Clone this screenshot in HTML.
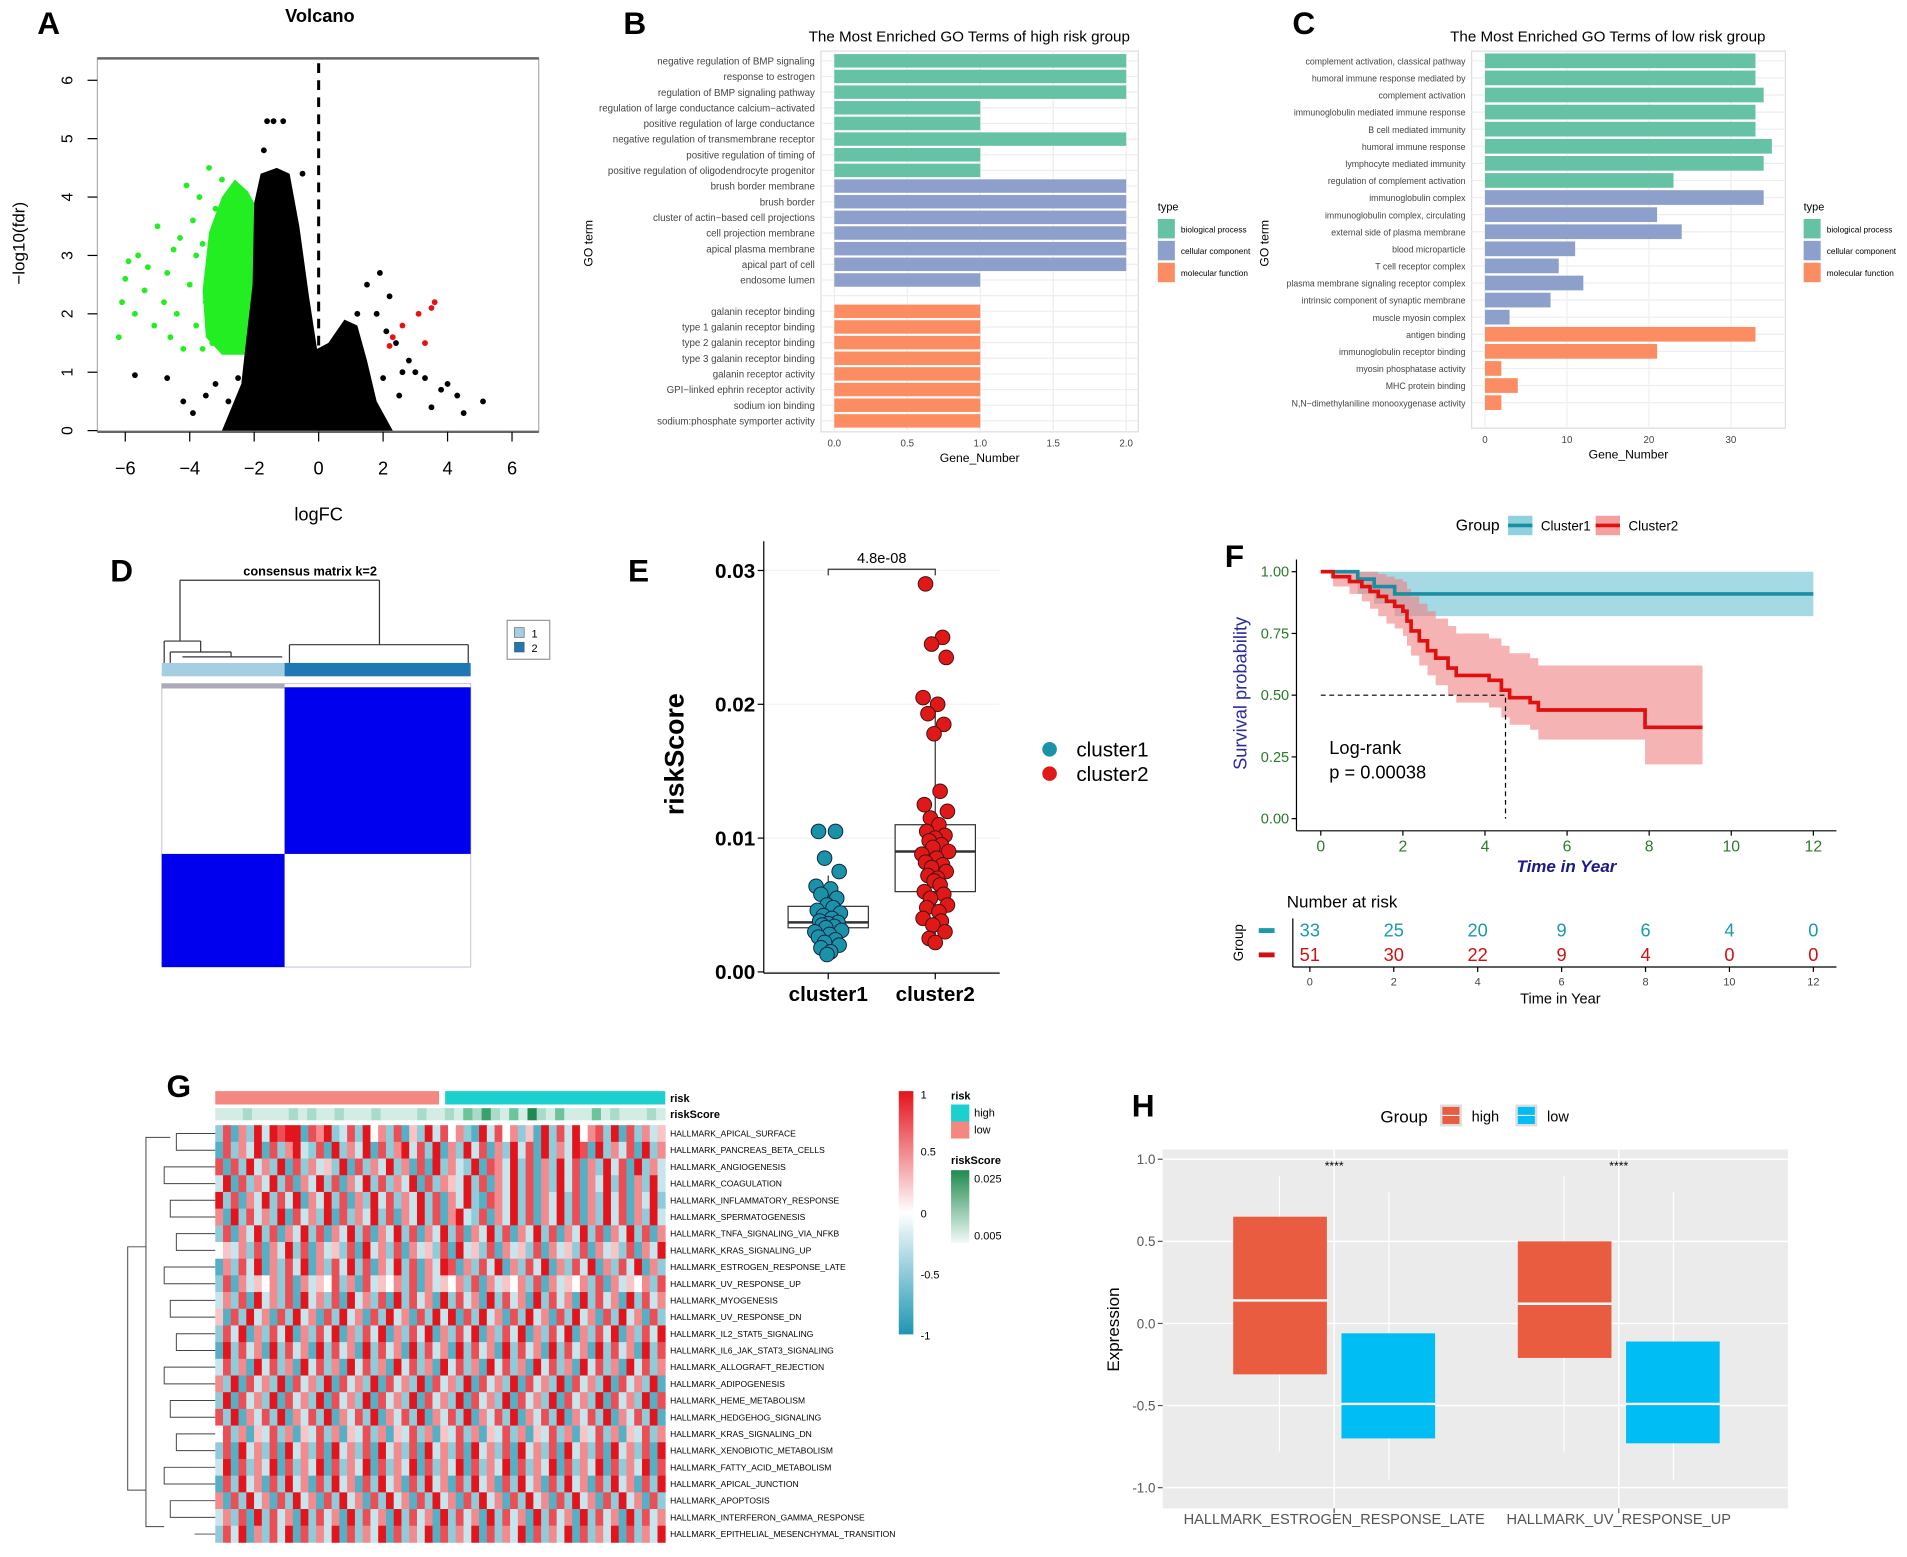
<!DOCTYPE html>
<html><head><meta charset="utf-8"><style>
html,body{margin:0;padding:0;background:#fff}
svg{display:block;font-family:"Liberation Sans",Arial,sans-serif}
</style></head><body>
<svg id="fig" width="1907" height="1557" viewBox="0 0 1568 1280" preserveAspectRatio="none" xmlns="http://www.w3.org/2000/svg">
<rect width="1568" height="1280" fill="#fff"/>
</svg>
<script>
// ---------- DATA ----------
const volcanoBlackCloud=[[-3.0,0],[-2.4,0.8],[-2.3,1.3],[-2.05,2.5],[-2.0,3.9],[-1.8,4.4],[-1.3,4.5],[-0.9,4.4],[-0.6,3.5],[-0.3,2.3],[-0.05,1.4],[0.3,1.5],[0.8,1.9],[1.2,1.8],[1.5,1.2],[1.8,0.5],[2.3,0]];
const volcanoGreenCloud=[[-2.0,1.3],[-3.0,1.3],[-3.5,1.6],[-3.6,2.4],[-3.4,3.4],[-3.0,4.0],[-2.6,4.3],[-2.2,4.1],[-2.0,3.9]];
const volcanoGreenPts=[[-6.2,1.6],[-6.1,2.2],[-6.0,2.6],[-5.9,2.9],[-5.7,2.0],[-5.6,3.0],[-5.4,2.4],[-5.3,2.8],[-5.1,1.8],[-5.0,3.5],[-4.8,2.2],[-4.7,2.7],[-4.6,1.6],[-4.5,3.1],[-4.4,2.0],[-4.2,1.4],[-4.1,4.2],[-4.0,2.5],[-3.9,3.6],[-3.8,1.8],[-3.7,4.0],[-3.6,3.2],[-3.5,2.2],[-3.4,4.5],[-3.3,1.5],[-3.2,3.8],[-3.1,2.8],[-3.0,4.3],[-2.9,1.9],[-2.8,3.3],[-3.6,1.4],[-4.3,3.3],[-3.8,3.0]];
const volcanoBlackPts=[[-5.7,0.95],[-4.7,0.9],[-4.2,0.5],[-3.9,0.3],[2.1,1.7],[2.4,1.5],[2.8,1.2],[3.0,1.0],[3.3,0.9],[3.8,0.7],[4.0,0.8],[4.3,0.6],[5.1,0.5],[1.8,2.0],[2.2,2.3],[1.5,2.5],[2.0,0.9],[2.5,0.6],[3.5,0.4],[-2.8,0.5],[-3.2,0.8],[-1.4,5.3],[-1.1,5.3],[-1.6,5.3],[-1.7,4.8],[-0.5,4.4],[1.2,2.0],[-3.5,0.6],[-2.5,0.9],[4.5,0.3],[1.9,2.7],[2.6,1.0]];
const volcanoRedPts=[[2.2,1.45],[2.3,1.6],[2.6,1.8],[3.1,2.0],[3.5,2.1],[3.3,1.5],[3.6,2.2]];
const volXTicks=[-6,-4,-2,0,2,4,6];
const volYTicks=[0,1,2,3,4,5,6];

const goHighTerms=["negative regulation of BMP signaling","response to estrogen","regulation of BMP signaling pathway","regulation of large conductance calcium−activated","positive regulation of large conductance","negative regulation of transmembrane receptor","positive regulation of timing of","positive regulation of oligodendrocyte progenitor","brush border membrane","brush border","cluster of actin−based cell projections","cell projection membrane","apical plasma membrane","apical part of cell","endosome lumen","","galanin receptor binding","type 1 galanin receptor binding","type 2 galanin receptor binding","type 3 galanin receptor binding","galanin receptor activity","GPI−linked ephrin receptor activity","sodium ion binding","sodium:phosphate symporter activity"];
const goHighValues=[2,2,2,1,1,2,1,1,2,2,2,2,2,2,1,0,1,1,1,1,1,1,1,1];
const goHighTypes=[0,0,0,0,0,0,0,0,1,1,1,1,1,1,1,-1,2,2,2,2,2,2,2,2];
const goHighTicks=[0,0.5,1,1.5,2];
const goLowTerms=["complement activation, classical pathway","humoral immune response mediated by","complement activation","immunoglobulin mediated immune response","B cell mediated immunity","humoral immune response","lymphocyte mediated immunity","regulation of complement activation","immunoglobulin complex","immunoglobulin complex, circulating","external side of plasma membrane","blood microparticle","T cell receptor complex","plasma membrane signaling receptor complex","intrinsic component of synaptic membrane","muscle myosin complex","antigen binding","immunoglobulin receptor binding","myosin phosphatase activity","MHC protein binding","N,N−dimethylaniline monooxygenase activity"];
const goLowValues=[33,33,34,33,33,35,34,23,34,21,24,11,9,12,8,3,33,21,2,4,2];
const goLowTypes=[0,0,0,0,0,0,0,0,1,1,1,1,1,1,1,1,2,2,2,2,2];
const goLowTicks=[0,10,20,30];
const typeNames=["biological process","cellular component","molecular function"];

const riskCats=["cluster1","cluster2"];
const riskC1=[0.0105,0.0105,0.0085,0.0075,0.0064,0.0062,0.0058,0.0055,0.0050,0.0048,0.0046,0.0044,0.0042,0.0040,0.0038,0.0037,0.0036,0.0035,0.0034,0.0033,0.0031,0.0030,0.0028,0.0026,0.0024,0.0022,0.0020,0.0018,0.0015,0.0013];
const riskC2=[0.029,0.025,0.0245,0.0235,0.0205,0.0200,0.0193,0.0185,0.0178,0.0135,0.0125,0.0120,0.0115,0.0110,0.0105,0.0102,0.0100,0.0098,0.0095,0.0093,0.0090,0.0088,0.0085,0.0082,0.0080,0.0078,0.0075,0.0072,0.0070,0.0068,0.0065,0.0060,0.0058,0.0055,0.0050,0.0048,0.0045,0.0040,0.0038,0.0035,0.0030,0.0025,0.0022];
const riskBoxC1=[0.0013,0.0033,0.0037,0.0049,0.0072];
const riskBoxC2=[0.0022,0.0060,0.0090,0.0110,0.0195];
const riskTicks=[0,0.01,0.02,0.03];

const km1Times=[0,0.9,1.3,1.8];
const km1Surv=[1,0.97,0.94,0.91];
const km1Lower=[1,0.91,0.87,0.82];
const km1Upper=[1,1,1,1];
const km1End=12;
const km2Times=[0,0.3,0.7,1.0,1.2,1.4,1.6,1.8,2.0,2.1,2.2,2.4,2.6,2.8,3.1,3.3,4.1,4.4,4.6,5.1,5.3,7.9];
const km2Surv=[1,.98,.96,.94,.92,.90,.88,.86,.84,.80,.76,.72,.68,.65,.61,.58,.56,.52,.49,.47,.44,.37];
const km2Upper=[1,1,1,1,1,.99,.98,.97,.96,.93,.90,.87,.84,.81,.78,.75,.73,.70,.67,.65,.62,.62];
const km2Lower=[1,.94,.91,.88,.85,.82,.79,.77,.74,.70,.66,.62,.58,.54,.50,.47,.45,.41,.38,.36,.32,.22];
const km2End=9.3;
const kmXTicks=[0,2,4,6,8,10,12];
const kmYTicks=[0,0.25,0.5,0.75,1];
const riskTable1=[33,25,20,9,6,4,0];
const riskTable2=[51,30,22,9,4,0,0];

const hmRows=["HALLMARK_APICAL_SURFACE","HALLMARK_PANCREAS_BETA_CELLS","HALLMARK_ANGIOGENESIS","HALLMARK_COAGULATION","HALLMARK_INFLAMMATORY_RESPONSE","HALLMARK_SPERMATOGENESIS","HALLMARK_TNFA_SIGNALING_VIA_NFKB","HALLMARK_KRAS_SIGNALING_UP","HALLMARK_ESTROGEN_RESPONSE_LATE","HALLMARK_UV_RESPONSE_UP","HALLMARK_MYOGENESIS","HALLMARK_UV_RESPONSE_DN","HALLMARK_IL2_STAT5_SIGNALING","HALLMARK_IL6_JAK_STAT3_SIGNALING","HALLMARK_ALLOGRAFT_REJECTION","HALLMARK_ADIPOGENESIS","HALLMARK_HEME_METABOLISM","HALLMARK_HEDGEHOG_SIGNALING","HALLMARK_KRAS_SIGNALING_DN","HALLMARK_XENOBIOTIC_METABOLISM","HALLMARK_FATTY_ACID_METABOLISM","HALLMARK_APICAL_JUNCTION","HALLMARK_APOPTOSIS","HALLMARK_INTERFERON_GAMMA_RESPONSE","HALLMARK_EPITHELIAL_MESENCHYMAL_TRANSITION"];
const hmValues=[
"2716283878817682372846271528374621837462518273846728172635",
"1726381726832718263817268372816283716283718263871826371826",
"7172836281726352817263826171826328176382716283716283718263",
"3817263827163827163827263817265382716382716283716382716283",
"8271638273816382716283726382716382176382716382716283716382",
"6182736281736281726382716382716832716382716382716283716283",
"2716382716382716382716382716382716382716382716382716382716",
"4536271638271635271836271635271835271635271635271635271638",
"1627381627381627382716382716387162738162738162738162738162",
"2716354627163547261735462716354627163546271635462716354627",
"3627183627183627183627182736182736182736182736182736182736",
"5172836172836172836172836172838172836172836172836172836172",
"2738162738162738162738162738162738162738162738162738162738",
"1827361827361827361827361827361827361827361827361827361827",
"3726183726183726183726183726183726183726183726183726183726",
"6281736281736281736281736281736281736281736281736281736281",
"2817362817362817362817362817362817362817362817362817362817",
"7281637281637281637281637281637281637281637281637281637281",
"4726153726153726153726153726153726153726153726153726153726",
"2718362718362718362718362718362718362718362718362718362718",
"3817263817263817263817263817263817263817263817263817263817",
"1728361728361728361728361728361728361728361728361728361728",
"6172836172836172836172836172836172836172836172836172836172",
"3627182736182736182736182736182736182736182736182736182736",
"2738162738172638172638172638172638172638172638172638172638"];
const hmRiskScore="1112111121211211121111211213242131521311131211121";

const hCats=["HALLMARK_ESTROGEN_RESPONSE_LATE","HALLMARK_UV_RESPONSE_UP"];
const hHighBox=[[-0.31,0.14,0.65],[-0.21,0.12,0.50]];
const hLowBox=[[-0.70,-0.49,-0.06],[-0.73,-0.49,-0.11]];
const hTicks=[-1,-0.5,0,0.5,1];
const hTickLabels=["-1.0","-0.5","0.0","0.5","1.0"];

// ---------- HELPERS ----------
const NS="http://www.w3.org/2000/svg";
const svg=document.getElementById('fig');
function mk(tag,attrs,parent,text){const e=document.createElementNS(NS,tag);for(const k in attrs)e.setAttribute(k,attrs[k]);if(text!==undefined)e.textContent=text;(parent||svg).appendChild(e);return e;}
function txt(x,y,s,size,extra){const a={x:x,y:y,'font-size':size};Object.assign(a,extra||{});return mk('text',a,svg,s);}
function grp(name){const g=mk('g',{});return g;}
const panelLabels=[["A",40,28],["B",522,28],["C",1072,28],["D",100,478],["E",525,478],["F",1015,466],["G",147,902],["H",940,918]];
panelLabels.forEach(p=>{const t=txt(p[1],p[2],p[0],26,{'font-weight':'bold','text-anchor':'middle'});});

// ---------- A: Volcano ----------
(function(){
const g=grp('volcano-plot');
const X=v=>262+v*26.5, Y=v=>354-v*48;
let t=txt(263,18,"Volcano",15,{'text-anchor':'middle','font-weight':'bold'});
mk('rect',{x:80,y:48,width:363,height:307,fill:'none',stroke:'#999','stroke-width':0.8},g);
mk('line',{x1:80,y1:48,x2:443,y2:48,stroke:'#666','stroke-width':2},g);
mk('line',{x1:80,y1:355,x2:443,y2:355,stroke:'#666','stroke-width':2},g);
const poly=(pts,c)=>mk('polygon',{points:pts.map(p=>X(p[0])+','+Y(p[1])).join(' '),fill:c},g);
poly(volcanoGreenCloud,'#22ee22');
poly(volcanoBlackCloud,'#000');
volcanoGreenPts.forEach(p=>{const c=mk('circle',{cx:X(p[0]),cy:Y(p[1]),r:2.4,fill:'#22ee22'},g);});
volcanoBlackPts.forEach(p=>{const c=mk('circle',{cx:X(p[0]),cy:Y(p[1]),r:2.4,fill:'#000'},g);});
volcanoRedPts.forEach(p=>{const c=mk('circle',{cx:X(p[0]),cy:Y(p[1]),r:2.4,fill:'#e81010'},g);});
mk('line',{x1:X(0),y1:52,x2:X(0),y2:355,stroke:'#000','stroke-width':2.5,'stroke-dasharray':'8,6'},g);
volXTicks.forEach(v=>{mk('line',{x1:X(v),y1:355,x2:X(v),y2:363,stroke:'#000'},g);const l=txt(X(v),390,String(v).replace('-','−'),15,{'text-anchor':'middle'});});
volYTicks.forEach(v=>{mk('line',{x1:72,y1:Y(v),x2:80,y2:Y(v),stroke:'#000'},g);const l=txt(56,Y(v),String(v),13,{'text-anchor':'middle',transform:`rotate(-90 56 ${Y(v)})`,'dominant-baseline':'middle'});});
t=txt(262,428,"logFC",15,{'text-anchor':'middle'});
t=txt(20,200,"−log10(fdr)",14,{'text-anchor':'middle',transform:'rotate(-90 20 200)'});
})();

// ---------- B / C: GO bars ----------
const typeColors=['#66c2a5','#8da0cb','#fc8d62'];
function goChart(name,title,terms,vals,types,ticks,labelSize,titleOff,zeroX,unit,y0,step,tx,px0,px1,py0,py1,legX){
const g=grp(name);
let t=txt(tx,34,title,12.5,{'text-anchor':'middle'});
mk('rect',{x:px0,y:py0,width:px1-px0,height:py1-py0,fill:'#fff',stroke:'#ddd'},g);
ticks.forEach(v=>{mk('line',{x1:zeroX+v*unit,y1:py0,x2:zeroX+v*unit,y2:py1,stroke:'#eee'},g);});
terms.forEach((s,i)=>{const y=y0+i*step;mk('line',{x1:px0,y1:y,x2:px1,y2:y,stroke:'#eee'},g);
 if(types[i]>=0){const b=mk('rect',{x:zeroX,y:y-step*0.43,width:vals[i]*unit,height:step*0.86,fill:typeColors[types[i]]},g);}
 if(s){const l=txt(px0-5,y+3,s,labelSize,{'text-anchor':'end',fill:'#444'});}});
ticks.forEach(v=>{const l=txt(zeroX+v*unit,py1+12,String(v%1?v:(unit>50?v.toFixed(1):v)),8,{'text-anchor':'middle',fill:'#444'});});
t=txt((px0+px1)/2,py1+25,"Gene_Number",10,{'text-anchor':'middle'});
const gx=px0-titleOff;
t=txt(gx,200,"GO term",10,{'text-anchor':'middle',transform:`rotate(-90 ${gx} 200)`});
t=txt(legX,173,"type",9);
typeNames.forEach((s,i)=>{mk('rect',{x:legX,y:180+i*18,width:14,height:16,fill:typeColors[i]},g);const l=txt(legX+19,191+i*18,s,6.8);});
}
goChart('go-high-risk',"The Most Enriched GO Terms of high risk group",goHighTerms,goHighValues,goHighTypes,goHighTicks,8,188,686,120,50,12.87,797,675,936,42,355,952);
goChart('go-low-risk',"The Most Enriched GO Terms of low risk group",goLowTerms,goLowValues,goLowTypes,goLowTicks,7.2,167,1221,6.74,50,14.05,1322,1210,1468,42,352,1483);

// ---------- D: consensus ----------
(function(){
const g=grp('consensus-matrix');
let t=txt(255,473,"consensus matrix k=2",10.5,{'text-anchor':'middle','font-weight':'bold'});
const L=(a,b,c,d)=>mk('line',{x1:a,y1:b,x2:c,y2:d,stroke:'#333','stroke-width':1},g);
L(148,477,312,477);L(148,477,148,527);L(312,477,312,530);L(238,530,385,530);L(238,530,238,545);L(385,530,385,545);
L(135,527,165,527);L(135,527,135,545);L(165,527,165,536);L(140,536,190,536);L(140,536,140,545);L(190,536,190,540);L(150,540,232,540);
mk('rect',{x:133,y:545,width:101,height:11,fill:'#a6cee3'},g);
mk('rect',{x:234,y:545,width:153,height:11,fill:'#1f78b4'},g);
mk('rect',{x:133,y:562,width:254,height:233,fill:'#fff',stroke:'#ccd'},g);
const b1=mk('rect',{x:234,y:565,width:153,height:137,fill:'#0000ee'},g);
const b2=mk('rect',{x:133,y:702,width:101,height:93,fill:'#0000ee'},g);
mk('rect',{x:133,y:562,width:101,height:4,fill:'#aab'},g);
mk('rect',{x:417,y:510,width:35,height:32,fill:'#fff',stroke:'#999'},g);
mk('rect',{x:423,y:516,width:8,height:8,fill:'#a6cee3',stroke:'#555','stroke-width':0.5},g);
mk('rect',{x:423,y:528,width:8,height:8,fill:'#1f78b4',stroke:'#555','stroke-width':0.5},g);
t=txt(437,524,"1",9);
t=txt(437,536,"2",9);
})();

// ---------- E: riskScore box ----------
(function(){
const g=grp('riskscore-boxplot');
const Y=v=>799-v*11000, CX=[681,769];
riskTicks.forEach(v=>{mk('line',{x1:628,y1:Y(v),x2:822,y2:Y(v),stroke:'#f2f2f2'},g);mk('line',{x1:623,y1:Y(v),x2:628,y2:Y(v),stroke:'#000'},g);
 const l=txt(621,Y(v)+6,v.toFixed(2),17,{'text-anchor':'end','font-weight':'bold'});});
mk('line',{x1:628,y1:445,x2:628,y2:800,stroke:'#000'},g);
mk('line',{x1:628,y1:800,x2:822,y2:800,stroke:'#000'},g);
[riskBoxC1,riskBoxC2].forEach((b,i)=>{const cx=CX[i];
 mk('line',{x1:cx,y1:Y(b[0]),x2:cx,y2:Y(b[4]),stroke:'#333'},g);
 const r=mk('rect',{x:cx-33,y:Y(b[3]),width:66,height:Y(b[1])-Y(b[3]),fill:'#fff',stroke:'#333'},g);
 mk('line',{x1:cx-33,y1:Y(b[2]),x2:cx+33,y2:Y(b[2]),stroke:'#333','stroke-width':2},g);
 mk('line',{x1:cx,y1:800,x2:cx,y2:805,stroke:'#000'},g);
 const l=txt(cx,823,riskCats[i],17,{'text-anchor':'middle','font-weight':'bold'});});
const jit=[-8,6,-3,9,-10,2,-6,7,-1,4,-9,10,-4,3,-7,8,0,-5,5,-2,11,-11,1,-8,6,-3,9,-6,2,-1,4,-9,7,-4,10,-7,3,-10,5,-2,8,-5,0];
riskC1.forEach((v,i)=>{const c=mk('circle',{cx:CX[0]+jit[i%jit.length],cy:Y(v),r:6,fill:'#1a93a8',stroke:'#124','stroke-width':0.8},g);});
riskC2.forEach((v,i)=>{const c=mk('circle',{cx:CX[1]+jit[i%jit.length],cy:Y(v),r:6,fill:'#e01818',stroke:'#411','stroke-width':0.8},g);});
mk('path',{d:'M681 473 V468 H769 V473',fill:'none',stroke:'#333'},g);
let t=txt(725,463,"4.8e-08",12,{'text-anchor':'middle'});
t=txt(562,620,"riskScore",22,{'text-anchor':'middle','font-weight':'bold',transform:'rotate(-90 562 620)'});
mk('circle',{cx:863,cy:616,r:6,fill:'#1a93a8'},g);mk('circle',{cx:863,cy:636,r:6,fill:'#e01818'},g);
t=txt(885,622,"cluster1",17);
t=txt(885,642,"cluster2",17);
})();

// ---------- F: KM ----------
(function(){
const g=grp('km-plot');
const X=v=>1086+v*33.75, Y=v=>673-v*203;
function step(times,vals,end){let d='M'+X(times[0])+' '+Y(vals[0]);for(let i=1;i<times.length;i++){d+=' H'+X(times[i])+' V'+Y(vals[i]);}return d+' H'+X(end);}
function band(times,lo,hi,end){let d=step(times,hi,end);for(let i=times.length-1;i>=0;i--){d+=' V'+Y(lo[i])+' H'+X(times[i]);}return d+' Z';}
let b=mk('path',{d:band(km1Times,km1Lower,km1Upper,km1End),fill:'#8fd1de',opacity:0.8},g);
b=mk('path',{d:band(km2Times,km2Lower,km2Upper,km2End),fill:'#f08080',opacity:0.6},g);
let p=mk('path',{d:step(km1Times,km1Surv,km1End),fill:'none',stroke:'#1a8fa3','stroke-width':3},g);
p=mk('path',{d:step(km2Times,km2Surv,km2End),fill:'none',stroke:'#e01010','stroke-width':3},g);
mk('path',{d:`M${X(0)} ${Y(0.5)} H${X(4.5)} V${Y(0)}`,fill:'none',stroke:'#000','stroke-dasharray':'4,3'},g);
mk('line',{x1:1066,y1:460,x2:1066,y2:683,stroke:'#000'},g);mk('line',{x1:1066,y1:683,x2:1510,y2:683,stroke:'#000'},g);
kmYTicks.forEach(v=>{mk('line',{x1:1062,y1:Y(v),x2:1066,y2:Y(v),stroke:'#000'},g);const l=txt(1060,Y(v)+4,v.toFixed(2),12,{'text-anchor':'end',fill:'#2a7a2a'});});
kmXTicks.forEach(v=>{mk('line',{x1:X(v),y1:683,x2:X(v),y2:687,stroke:'#000'},g);const l=txt(X(v),700,String(v),13,{'text-anchor':'middle',fill:'#2a7a2a'});});
let t=txt(1288,717,"Time in Year",14,{'text-anchor':'middle','font-style':'italic','font-weight':'bold',fill:'#1a1a8a'});
t=txt(1025,570,"Survival probability",15,{'text-anchor':'middle',fill:'#2a2a9a',transform:'rotate(-90 1025 570)'});
t=txt(1093,620,"Log-rank",15);
t=txt(1093,640,"p = 0.00038",15);
t=txt(1197,436,"Group",13);
mk('rect',{x:1240,y:424,width:20,height:16,fill:'#8fd1de'},g);mk('line',{x1:1240,y1:432,x2:1260,y2:432,stroke:'#1a8fa3','stroke-width':3},g);
mk('rect',{x:1312,y:424,width:20,height:16,fill:'#f4a0a0'},g);mk('line',{x1:1312,y1:432,x2:1332,y2:432,stroke:'#e01010','stroke-width':3},g);
t=txt(1267,436,"Cluster1",11);
t=txt(1339,436,"Cluster2",11);
const RX=v=>1077+v*34.5;
t=txt(1058,746,"Number at risk",14);
kmXTicks.forEach((v,i)=>{let l=txt(RX(v),770,String(riskTable1[i]),15,{'text-anchor':'middle',fill:'#1a9aaa'});
 l=txt(RX(v),790,String(riskTable2[i]),15,{'text-anchor':'middle',fill:'#d01010'});
 mk('line',{x1:RX(v),y1:795,x2:RX(v),y2:799,stroke:'#000'},g);
 l=txt(RX(v),810,String(v),9,{'text-anchor':'middle',fill:'#444'});});
mk('line',{x1:1063,y1:755,x2:1063,y2:795,stroke:'#000'},g);mk('line',{x1:1063,y1:795,x2:1510,y2:795,stroke:'#000'},g);
mk('rect',{x:1035,y:763,width:13,height:4,fill:'#1a9aaa'},g);mk('rect',{x:1035,y:783,width:13,height:4,fill:'#d01010'},g);
t=txt(1022,775,"Group",11,{'text-anchor':'middle',transform:'rotate(-90 1022 775)'});
t=txt(1283,825,"Time in Year",12,{'text-anchor':'middle'});
})();

// ---------- G: heatmap ----------
(function(){
const g=grp('hallmark-heatmap');
const x0=177,x1=547,y0=925,rh=(1268-925)/hmRows.length;
function col(v){const t=(v-4)/4;const lerp=(a,b,f)=>Math.round(a+(b-a)*f);
 if(t>=0)return `rgb(${lerp(255,228,t)},${lerp(255,20,t)},${lerp(255,28,t)})`;const f=-t;return `rgb(${lerp(255,30,f)},${lerp(255,150,f)},${lerp(255,178,f)})`;}
hmValues.forEach((row,r)=>{const n=row.length,w=(x1-x0)/n;for(let c=0;c<n;c++){const cell=mk('rect',{x:x0+c*w,y:y0+r*rh,width:w+0.3,height:rh+0.3,fill:col(+row[c])},g);}
 const l=txt(551,y0+r*rh+rh/2+2.5,hmRows[r],7);
 mk('line',{x1:160,y1:y0+r*rh+rh/2,x2:177,y2:y0+r*rh+rh/2,stroke:'#444','stroke-width':0.8},g);});
for(let r=0;r<hmRows.length-1;r+=2){const ya=y0+r*rh+rh/2,yb=ya+rh;mk('path',{d:`M160 ${ya} H${145-r%3*5} V${yb} H160`,fill:'none',stroke:'#444','stroke-width':0.8},g);}
mk('path',{d:`M140 ${y0+10} H120 V${y0+330} H135`,fill:'none',stroke:'#444','stroke-width':0.8},g);
mk('path',{d:`M120 ${y0+100} H105 V${y0+300} H120`,fill:'none',stroke:'#444','stroke-width':0.8},g);
let b=mk('rect',{x:177,y:897,width:184,height:11,fill:'#f4877f'},g);
b=mk('rect',{x:366,y:897,width:181,height:11,fill:'#1cd0d0'},g);
const n=hmRiskScore.length,w=(x1-x0)/n,gc=['#eef7f4','#d3ece4','#a8dcc8','#6cc49b','#3aa06c','#1f8a4f'];
for(let c=0;c<n;c++){const cell=mk('rect',{x:x0+c*w,y:911,width:w+0.3,height:10,fill:gc[+hmRiskScore[c]]},g);}
let t=txt(551,906,"risk",9,{'font-weight':'bold'});
t=txt(551,919,"riskScore",9,{'font-weight':'bold'});
const defs=mk('defs',{},g);
const lg=mk('linearGradient',{id:'hmg',x1:0,y1:0,x2:0,y2:1},defs);
mk('stop',{offset:'0','stop-color':'#e4141c'},lg);mk('stop',{offset:'0.5','stop-color':'#ffffff'},lg);mk('stop',{offset:'1','stop-color':'#1e96b2'},lg);
const lg2=mk('linearGradient',{id:'rsg',x1:0,y1:0,x2:0,y2:1},defs);
mk('stop',{offset:'0','stop-color':'#1f8a4f'},lg2);mk('stop',{offset:'1','stop-color':'#f2fbf8'},lg2);
mk('rect',{x:739,y:897,width:12,height:200,fill:'url(#hmg)'},g);
[["1",900],["0.5",947],["0",998],["-0.5",1048],["-1",1098]].forEach(a=>{const l=txt(757,a[1]+3,a[0],9);});
t=txt(782,904,"risk",9,{'font-weight':'bold'});
mk('rect',{x:782,y:908,width:15,height:14,fill:'#1cd0d0'},g);mk('rect',{x:782,y:922,width:15,height:14,fill:'#f4877f'},g);
t=txt(801,918,"high",9);
t=txt(801,932,"low",9);
t=txt(782,957,"riskScore",9,{'font-weight':'bold'});
mk('rect',{x:782,y:962,width:15,height:60,fill:'url(#rsg)'},g);
t=txt(801,972,"0.025",9);
t=txt(801,1019,"0.005",9);
})();

// ---------- H: boxplot ----------
(function(){
const g=grp('expression-boxplot');
const Y=v=>1088-v*135, CX=[1097,1331];
mk('rect',{x:956,y:945,width:514,height:295,fill:'#ebebeb'},g);
hTicks.forEach((v,i)=>{mk('line',{x1:956,y1:Y(v),x2:1470,y2:Y(v),stroke:'#fff','stroke-width':1.2},g);mk('line',{x1:952,y1:Y(v),x2:956,y2:Y(v),stroke:'#555'},g);
 const l=txt(950,Y(v)+4,hTickLabels[i],11,{'text-anchor':'end',fill:'#555'});});
CX.forEach(cx=>{mk('line',{x1:cx,y1:945,x2:cx,y2:1240,stroke:'#fff','stroke-width':1.2},g);});
hCats.forEach((s,i)=>{const cx=CX[i];
 mk('line',{x1:cx-45,y1:Y(-0.78),x2:cx-45,y2:Y(0.9),stroke:'#fff'},g);
 mk('line',{x1:cx+45,y1:Y(-0.95),x2:cx+45,y2:Y(0.8),stroke:'#fff'},g);
 const hb=hHighBox[i],lb=hLowBox[i];
 let r=mk('rect',{x:cx-83,y:Y(hb[2]),width:77,height:Y(hb[0])-Y(hb[2]),fill:'#ea5c3f'},g);
 mk('line',{x1:cx-83,y1:Y(hb[1]),x2:cx-6,y2:Y(hb[1]),stroke:'#fff','stroke-width':2},g);
 r=mk('rect',{x:cx+6,y:Y(lb[2]),width:77,height:Y(lb[0])-Y(lb[2]),fill:'#00bdf4'},g);
 mk('line',{x1:cx+6,y1:Y(lb[1]),x2:cx+83,y2:Y(lb[1]),stroke:'#fff','stroke-width':2},g);
 let l=txt(cx,962,"****",10,{'text-anchor':'middle'});
 mk('line',{x1:cx,y1:1240,x2:cx,y2:1244,stroke:'#555'},g);
 l=txt(cx,1253,s,12,{'text-anchor':'middle',fill:'#555'});});
let t=txt(920,1093,"Expression",14,{'text-anchor':'middle',transform:'rotate(-90 920 1093)'});
t=txt(1135,923,"Group",14);
mk('rect',{x:1184,y:908,width:18,height:18,fill:'#ddd'},g);mk('rect',{x:1186,y:910,width:14,height:14,fill:'#ea5c3f'},g);mk('line',{x1:1186,y1:917,x2:1200,y2:917,stroke:'#fff'},g);
mk('rect',{x:1246,y:908,width:18,height:18,fill:'#ddd'},g);mk('rect',{x:1248,y:910,width:14,height:14,fill:'#00bdf4'},g);mk('line',{x1:1248,y1:917,x2:1262,y2:917,stroke:'#fff'},g);
t=txt(1210,922,"high",12);
t=txt(1272,922,"low",12);
})();
</script>
</body></html>
